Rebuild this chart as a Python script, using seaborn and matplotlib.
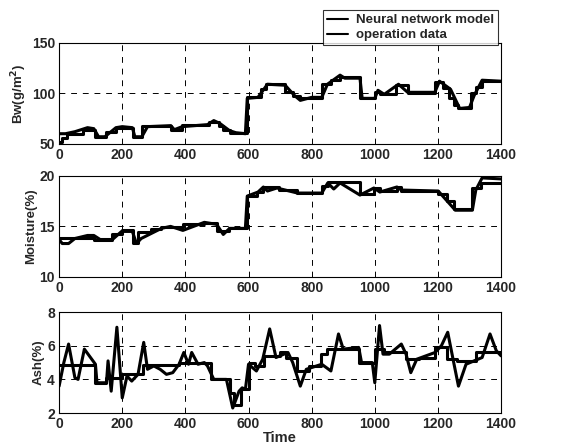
import matplotlib
matplotlib.use("Agg")
import matplotlib.pyplot as plt
import seaborn as sns

# ── data ─────────────────────────────────────────────────────────────────────
TIME_TICKS = [0, 200, 400, 600, 800, 1000, 1200, 1400]

# Bw(g/m^2) -- operation data is drawn as steps (value holds until next time)
bw_data_t = [0, 10, 25, 75, 115, 150, 180, 235, 262, 356, 390, 475, 505, 520,
             540, 594, 640, 655, 716, 740, 764, 832, 860, 890, 953, 1000, 1016,
             1068, 1104, 1190, 1215, 1235, 1250, 1265, 1305, 1320, 1340, 1400]
bw_data_v = [52, 56, 60, 64, 57, 62, 66, 57, 67.5, 63.5, 68.5, 72, 68, 64,
             61, 96, 104, 109, 101, 97, 95, 109, 113, 116, 95, 101, 99,
             108, 100.5, 111, 105, 95, 88, 85, 100, 106, 112, 112]
bw_nn_t = [0, 20, 50, 90, 110, 125, 145, 180, 200, 232, 240, 262, 280, 354,
           365, 390, 470, 490, 510, 540, 560, 590, 596, 630, 660, 716, 745,
           764, 800, 832, 850, 890, 905, 953, 960, 1000, 1010, 1030, 1075,
           1104, 1190, 1205, 1240, 1269, 1300, 1315, 1340, 1400]
bw_nn_v = [60, 60, 62, 66, 65, 57, 57, 66, 67, 66, 57, 57, 67, 68,
           64, 67, 69, 73, 70, 63, 61, 60, 95, 96, 109, 108, 98,
           93, 96, 96, 109, 118, 115, 115, 95, 95, 103, 99, 109,
           101, 101, 112, 104, 85, 86, 98, 113, 112]

# Moisture(%)
mo_data_t = [0, 111, 169, 198, 235, 251, 290, 324, 392, 460, 499, 538, 594,
             628, 647, 696, 755, 832, 851, 953, 997, 1016, 1070, 1084, 1201,
             1230, 1250, 1309, 1335, 1400]
mo_data_v = [13.8, 13.7, 14.2, 14.6, 13.4, 14.4, 14.7, 14.9, 15.2, 15.3, 14.5,
             14.8, 18.0, 18.4, 18.9, 18.6, 18.3, 19.0, 19.4, 18.2, 18.8, 18.5,
             18.9, 18.5, 18.2, 17.5, 16.7, 18.8, 19.3, 19.3]
mo_nn_t = [0, 10, 30, 50, 90, 110, 130, 169, 198, 232, 245, 260, 324, 353,
           392, 460, 499, 520, 540, 590, 596, 630, 647, 660, 690, 755, 832,
           851, 870, 890, 953, 997, 1016, 1070, 1084, 1201, 1255, 1309, 1320,
           1340, 1400]
mo_nn_v = [13.7, 13.3, 13.3, 13.8, 14.1, 14.1, 13.7, 13.7, 14.5, 14.5, 13.3,
           13.8, 14.8, 15.0, 14.6, 15.4, 15.2, 14.2, 14.8, 14.8, 18.0, 18.4,
           18.9, 18.5, 18.8, 18.3, 18.3, 19.3, 18.7, 19.3, 18.1, 18.8, 18.4,
           18.9, 18.6, 18.5, 16.6, 16.6, 18.6, 19.8, 19.7]

# Ash(%)
ash_data_t = [0, 115, 150, 200, 265, 380, 480, 540, 555, 575, 600, 620, 650,
              700, 720, 754, 793, 830, 850, 950, 1000, 1030, 1100, 1140, 1190,
              1230, 1260, 1320, 1400]
ash_data_v = [4.85, 3.8, 4.1, 4.3, 4.85, 4.95, 4.0, 3.2, 2.5, 3.4, 5.0, 4.8,
              5.4, 5.6, 5.3, 4.5, 4.8, 5.5, 5.8, 5.0, 5.8, 5.6, 5.2, 5.3, 5.9,
              5.2, 5.1, 5.6, 5.6]
ash_nn_t = [0, 15, 30, 50, 60, 80, 115, 120, 150, 155, 165, 183, 200, 215, 230,
            250, 268, 280, 300, 320, 340, 360, 380, 395, 410, 420, 440, 460,
            470, 490, 530, 550, 570, 580, 590, 600, 625, 645, 667, 687, 725,
            740, 764, 783, 832, 861, 885, 900, 949, 958, 992, 1000, 1015, 1026,
            1046, 1084, 1099, 1114, 1133, 1191, 1211, 1231, 1250, 1265, 1289,
            1340, 1365, 1385, 1400]
ash_nn_v = [3.6, 5.0, 6.1, 4.1, 4.0, 5.8, 4.9, 3.8, 3.8, 5.1, 3.3, 7.1, 2.9, 4.2,
            3.9, 4.3, 6.2, 4.6, 4.8, 4.6, 4.3, 4.4, 4.9, 5.6, 4.9, 5.6, 4.9,
            5.0, 4.8, 4.0, 4.0, 2.3, 3.3, 3.5, 3.4, 4.9, 4.5, 5.2, 7.0, 5.3,
            5.6, 5.0, 3.6, 4.6, 4.9, 4.5, 6.7, 5.8, 5.9, 5.0, 5.0, 3.8, 7.2,
            5.5, 5.5, 6.1, 5.5, 4.4, 5.2, 5.6, 6.0, 6.8, 5.0, 3.6, 4.9, 5.3,
            6.7, 5.7, 5.4]

PANELS = [
    ("Bw(g/m$^{\\mathbf{2}}$)", (bw_nn_t, bw_nn_v), (bw_data_t, bw_data_v), (50, 150), [50, 100, 150]),
    ("Moisture(%)", (mo_nn_t, mo_nn_v), (mo_data_t, mo_data_v), (10, 20), [10, 15, 20]),
    ("Ash(%)", (ash_nn_t, ash_nn_v), (ash_data_t, ash_data_v), (2, 8), [2, 4, 6, 8]),
]

sns.set_style("white")
plt.rcParams["font.family"] = ["Liberation Sans", "DejaVu Sans"]
plt.rcParams["font.weight"] = "bold"
plt.rcParams["axes.labelweight"] = "bold"
plt.rcParams["mathtext.default"] = "bf"

fig = plt.figure(figsize=(5.63, 4.48), dpi=100)
bottoms = [0.679, 0.382, 0.078]
axes = [fig.add_axes([0.105, b, 0.785, 0.2254]) for b in bottoms]

for ax, (label, nn, data, ylim, yticks) in zip(axes, PANELS):
    sns.lineplot(x=nn[0], y=nn[1], ax=ax, color="black", lw=2.2,
                 estimator=None, sort=False, label="Neural network model")
    sns.lineplot(x=data[0], y=data[1], ax=ax, color="black", lw=2.2,
                 estimator=None, sort=False, drawstyle="steps-post",
                 label="operation data")
    ax.set_xlim(0, 1400)
    ax.set_ylim(*ylim)
    ax.set_xticks(TIME_TICKS)
    ax.set_yticks(yticks)
    ax.set_ylabel(label, fontsize=9.5, fontweight="bold", labelpad=2)
    ax.set_xlabel("")
    ax.grid(True, color="black", ls=(0, (6, 6)), lw=0.7)
    ax.tick_params(axis="x", direction="in", labelsize=10, length=3, pad=3, width=0.8)
    ax.tick_params(axis="y", direction="in", labelsize=10, length=3, pad=3, width=0.8)
    for lab in ax.get_xticklabels() + ax.get_yticklabels():
        lab.set_fontweight("bold")
    for s in ax.spines.values():
        s.set_color("black")
        s.set_linewidth(0.8)
    ax.get_legend().remove()

axes[2].set_xlabel("Time", fontsize=10.5, fontweight="bold", labelpad=0)

handles, labels = axes[0].get_legend_handles_labels()
leg = fig.legend(handles, labels, loc="upper right", bbox_to_anchor=(0.897, 0.992),
                 frameon=True, fancybox=False, edgecolor="black",
                 handlelength=1.6, handletextpad=0.6, borderpad=0.3,
                 labelspacing=0.2, prop={"weight": "bold", "size": 9.5})
leg.get_frame().set_linewidth(0.8)
for line in leg.get_lines():
    line.set_linewidth(1.5)

fig.savefig("out.png", dpi=100)
